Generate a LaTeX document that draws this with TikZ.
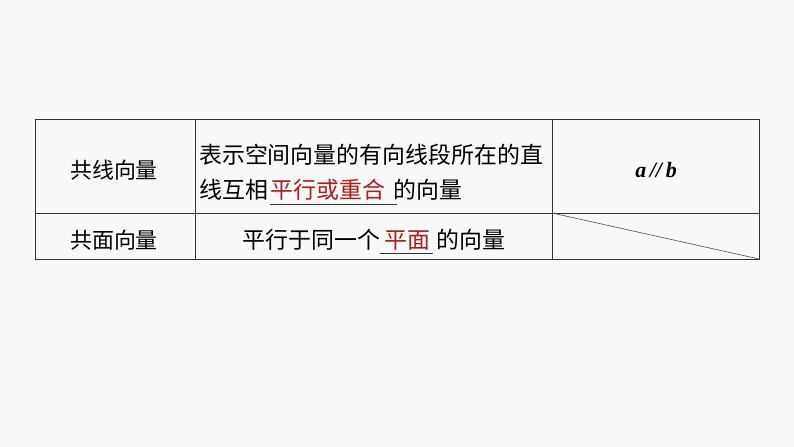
\documentclass[tikz,border=0pt]{standalone}
\usepackage{fontspec}
\setmainfont{Noto Sans CJK SC}
\newfontfamily\tnr{Liberation Serif}
\definecolor{bg}{HTML}{F8F8F8}
\definecolor{myred}{HTML}{B01C1C}
\begin{document}
\begin{tikzpicture}[x=1bp,y=-1bp,
  txt/.style={inner sep=0pt,font=\fontsize{23}{30}\selectfont},
  grid/.style={draw=black!80,line width=0.8bp}]
\fill[bg] (0,0) rectangle (794,447);
\useasboundingbox (0,0) rectangle (794,447);
\coordinate (tl) at (35,119);
\coordinate (br) at (759,259);
\draw[grid] (tl) rectangle (br);
\draw[grid] (35,213) -- (759,213);
\draw[grid] (195,119) -- (195,259);
\draw[grid] (552,119) -- (552,259);
\coordinate (d1) at (552,213);
\coordinate (d2) at (759,259);
\draw[black!70,line width=0.6bp] (d1) -- (d2);
\node[txt,font=\fontsize{22}{30}\selectfont] (a1) at (114,170) {共线向量};
\node[txt,anchor=west] (b1) at (199,155) {表示空间向量的有向线段所在的直};
\node[txt,anchor=west] (b2) at (199,190) {线互相\hspace{3bp}\textcolor{myred}{平行或重合}\hspace{8bp}的向量};
\draw[black!80,line width=0.6bp] (270,204) -- (397,204);
\node[txt,font=\fontsize{22}{30}\selectfont] (c1) at (656,170) {\tnr\itshape\bfseries a\,//\,b};
\node[txt,font=\fontsize{22}{30}\selectfont] (a2) at (114,240) {共面向量};
\node[txt] (b3) at (374,240) {平行于同一个\hspace{4bp}\textcolor{myred}{平面}\hspace{6bp}的向量};
\draw[black!80,line width=0.6bp] (380,253) -- (433,253);
\end{tikzpicture}
\end{document}
